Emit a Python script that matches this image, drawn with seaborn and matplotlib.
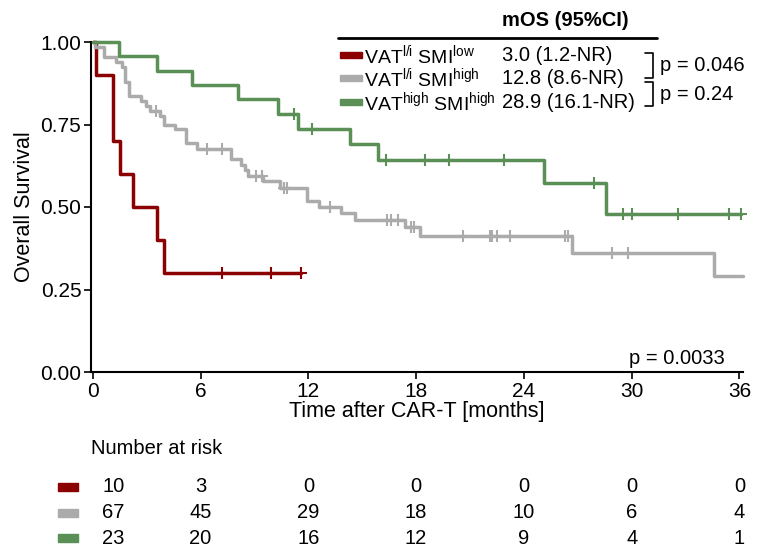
import numpy as np
import pandas as pd
import matplotlib
matplotlib.use("Agg")
import matplotlib.pyplot as plt
import seaborn as sns
from matplotlib import transforms
from matplotlib.lines import Line2D
from matplotlib.patches import Rectangle

# ---------------- data ----------------
group_names = ["VATli_SMIlow", "VATli_SMIhigh", "VAThigh_SMIhigh"]
group_labels = [r"VAT$^{\mathregular{l/i}}$ SMI$^{\mathregular{low}}$",
                r"VAT$^{\mathregular{l/i}}$ SMI$^{\mathregular{high}}$",
                r"VAT$^{\mathregular{high}}$ SMI$^{\mathregular{high}}$"]
group_colors = ["#8B0000", "#ABABAB", "#5A8F55"]
mos_text = ["3.0 (1.2-NR)", "12.8 (8.6-NR)", "28.9 (16.1-NR)"]

red_t = [0, 0.2, 1.1, 1.5, 2.25, 3.55, 3.95, 11.6]
red_s = [1.0, 0.9, 0.7, 0.6, 0.5, 0.4, 0.3, 0.3]
red_cens = [7.2, 9.9, 11.6]

gray_t = [0, 0.1, 0.65, 1.3, 1.6, 1.8, 2.0, 2.7, 2.95, 3.2, 3.75, 3.95, 4.6,
          5.2, 5.8, 7.7, 8.25, 8.45, 8.65, 9.5, 10.4, 11.9, 12.6, 13.8, 14.6,
          17.4, 18.2, 26.7, 34.6, 36.2]
gray_s = [1.0, 0.985, 0.955, 0.94, 0.925, 0.88, 0.835, 0.82, 0.805, 0.79, 0.775,
          0.75, 0.735, 0.695, 0.675, 0.645, 0.628, 0.612, 0.595, 0.578, 0.557,
          0.518, 0.5, 0.481, 0.46, 0.44, 0.413, 0.362, 0.29, 0.29]
gray_cens = [3.5, 6.35, 7.2, 9.1, 9.4, 10.65, 10.8, 13.2, 16.4, 16.6, 17.0,
             17.7, 17.9, 20.6, 22.1, 22.25, 22.5, 23.2, 26.3, 26.45, 28.9, 29.8]

green_t = [0, 1.45, 3.6, 5.5, 8.1, 10.3, 11.4, 14.3, 15.9, 25.1, 28.6, 36.1]
green_s = [1.0, 0.957, 0.913, 0.870, 0.826, 0.783, 0.737, 0.690, 0.641, 0.572,
           0.478, 0.478]
green_cens = [11.2, 12.2, 16.3, 18.5, 19.85, 22.9, 27.9, 29.5, 30.0, 32.6,
              35.4, 36.1]

risk_times = [0, 6, 12, 18, 24, 30, 36]
risk_red = [10, 3, 0, 0, 0, 0, 0]
risk_gray = [67, 45, 29, 18, 10, 6, 4]
risk_green = [23, 20, 16, 12, 9, 4, 1]

p_pair1 = "p = 0.046"
p_pair2 = "p = 0.24"
p_overall = "p = 0.0033"

x_ticks = [0, 6, 12, 18, 24, 30, 36]
y_ticks = [0.0, 0.25, 0.5, 0.75, 1.0]

# ---------------- style ----------------
sns.set_style("ticks")
plt.rcParams["font.family"] = ["Liberation Sans", "DejaVu Sans"]
plt.rcParams["mathtext.fontset"] = "custom"
plt.rcParams["mathtext.rm"] = "Liberation Sans"
plt.rcParams["mathtext.it"] = "Liberation Sans:italic"
plt.rcParams["mathtext.bf"] = "Liberation Sans:bold"
for key in ["text.color", "axes.labelcolor", "xtick.color", "ytick.color",
            "axes.edgecolor"]:
    plt.rcParams[key] = "black"

FS = 14.5
W, H = 764, 553
fig = plt.figure(figsize=(W / 100, H / 100), dpi=100)


def fx(x):
    return x / W


def fy(y):
    return 1 - y / H


ax = fig.add_axes([fx(91), fy(372), fx(743) - fx(91), fy(42) - fy(372)])

curves = [(red_t, red_s, red_cens), (gray_t, gray_s, gray_cens),
          (green_t, green_s, green_cens)]
frames = []
for name, (t, s, c) in zip(group_names, curves):
    frames.append(pd.DataFrame({"time": t, "surv": s, "group": name}))
df = pd.DataFrame(pd.concat(frames, ignore_index=True))
palette = dict(zip(group_names, group_colors))

sns.lineplot(data=df, x="time", y="surv", hue="group", palette=palette,
             estimator=None, sort=False, drawstyle="steps-post", lw=2.5,
             legend=False, ax=ax, clip_on=False, zorder=3)

cens_frames = []
for name, (t, s, c) in zip(group_names, curves):
    idx = np.searchsorted(np.array(t), np.array(c), side="right") - 1
    cens_frames.append(pd.DataFrame({"time": c, "surv": np.array(s)[idx],
                                     "group": name}))
cdf = pd.concat(cens_frames, ignore_index=True)
for name in group_names:
    sub = cdf[cdf.group == name]
    ax.plot(sub.time, sub.surv, ls="none", marker="+", ms=9, mew=1.5,
            color=palette[name], zorder=4, clip_on=False)

ax.set_xlim(-0.1, 36.2)
ax.set_ylim(0, 1)
ax.set_xticks(x_ticks)
ax.set_yticks(y_ticks)
ax.set_yticklabels([f"{v:.2f}" for v in y_ticks])
ax.tick_params(labelsize=15, width=1.2, length=5, color="black",
               labelcolor="black", pad=2)
for sp in ["left", "bottom"]:
    ax.spines[sp].set_linewidth(1.5)
    ax.spines[sp].set_color("black")
sns.despine(ax=ax)
ax.set_xlabel("Time after CAR-T [months]", fontsize=15.5, color="black")
ax.set_ylabel("Overall Survival", fontsize=15.5, color="black")
ax.xaxis.set_label_coords(0.5, -0.087)
ax.yaxis.set_label_coords(-0.086, 0.5)

ax.text(35.2, 0.04, p_overall, fontsize=FS, ha="right", va="center")

# ---------------- legend block ----------------
fig.text(fx(565), fy(20), "mOS (95%CI)", fontsize=FS, fontweight="bold",
         ha="center", va="center")
fig.add_artist(Line2D([fx(338), fx(657)], [fy(38), fy(38)], color="black",
                      lw=2, transform=fig.transFigure))
rows_y = [55, 78, 102]
for lab, col, mos, y in zip(group_labels, group_colors, mos_text, rows_y):
    fig.add_artist(Rectangle((fx(340), fy(y) - 3 / H), 22 / W, 6 / H,
                             color=col, transform=fig.transFigure))
    fig.text(fx(364), fy(y), lab, fontsize=14, ha="left", va="center")
    fig.text(fx(502), fy(y), mos, fontsize=FS, ha="left", va="center")

for (y0, y1), ptxt in zip([(53, 78), (82, 106)], [p_pair1, p_pair2]):
    fig.add_artist(Line2D([fx(645), fx(653), fx(653), fx(645)],
                          [fy(y0), fy(y0), fy(y1), fy(y1)], color="black",
                          lw=1.2, transform=fig.transFigure))
    fig.text(fx(660), fy((y0 + y1) / 2), ptxt, fontsize=FS, ha="left",
             va="center")

# ---------------- risk table ----------------
trans = transforms.blended_transform_factory(ax.transData, fig.transFigure)
fig.text(fx(91), fy(449), "Number at risk", fontsize=FS, ha="left",
         va="center")
risk_rows = [risk_red, risk_gray, risk_green]
risk_y = [487, 513, 538]
for vals, col, y in zip(risk_rows, group_colors, risk_y):
    fig.add_artist(Rectangle((fx(58), fy(y) - 4 / H), 20 / W, 8 / H,
                             color=col, transform=fig.transFigure))
    for i, (t, v) in enumerate(zip(risk_times, vals)):
        xpos = t + 1.15 if i == 0 else t
        ax.text(xpos, fy(y), str(v), transform=trans, fontsize=FS,
                ha="center", va="center")

fig.savefig("out.png", dpi=100)
